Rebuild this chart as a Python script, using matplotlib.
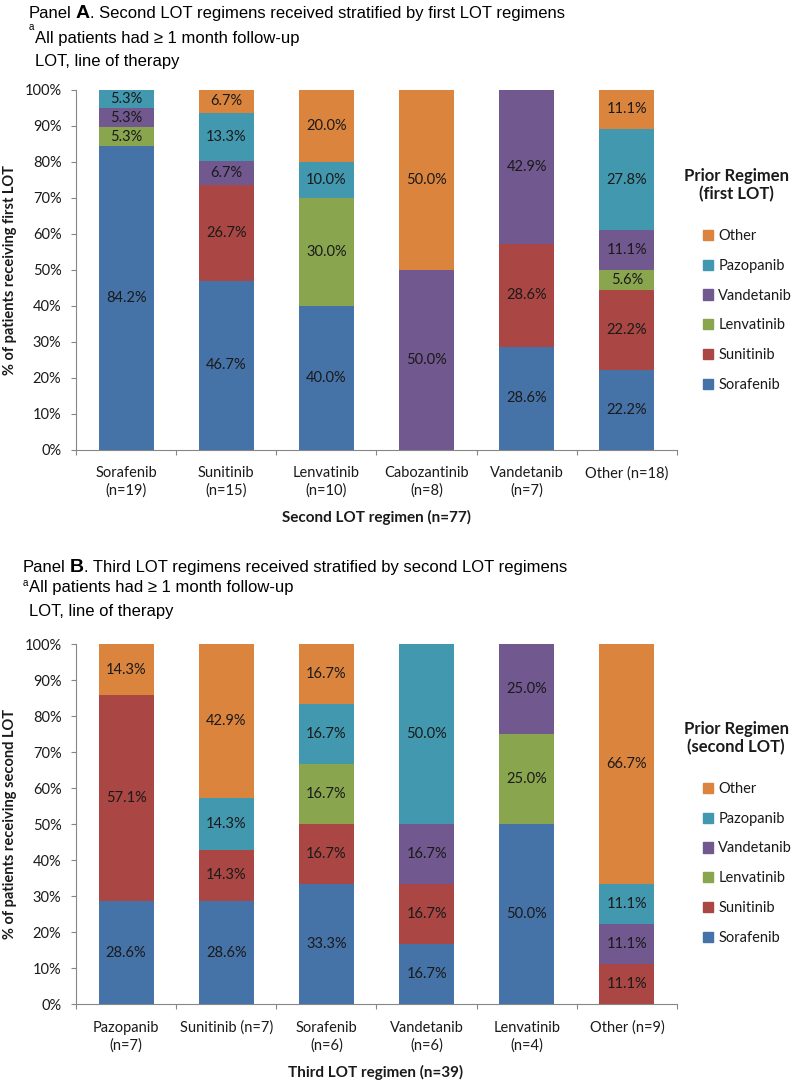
import matplotlib
matplotlib.use("Agg")
import matplotlib.pyplot as plt
import numpy as np
from matplotlib.patches import Patch
from matplotlib.ticker import MultipleLocator, PercentFormatter

W, H = 797, 1081  # output size in pixels

PRIOR = ["Sorafenib", "Sunitinib", "Lenvatinib", "Vandetanib", "Pazopanib", "Other"]
COLORS = ["#4572A7", "#AA4643", "#89A54E", "#71588F", "#4198AF", "#DB843D"]

# Panel A: second LOT regimen, split by first LOT regimen (%)
A_CATS = ["Sorafenib\n(n=19)", "Sunitinib\n(n=15)", "Lenvatinib\n(n=10)",
          "Cabozantinib\n(n=8)", "Vandetanib\n(n=7)", "Other (n=18)"]
A_SORAFENIB = [84.2, 46.7, 40.0, 0, 28.6, 22.2]
A_SUNITINIB = [0, 26.7, 0, 0, 28.6, 22.2]
A_LENVATINIB = [5.3, 0, 30.0, 0, 0, 5.6]
A_VANDETANIB = [5.3, 6.7, 0, 50.0, 42.9, 11.1]
A_PAZOPANIB = [5.3, 13.3, 10.0, 0, 0, 27.8]
A_OTHER = [0, 6.7, 20.0, 50.0, 0, 11.1]

# Panel B: third LOT regimen, split by second LOT regimen (%)
B_CATS = ["Pazopanib\n(n=7)", "Sunitinib (n=7)", "Sorafenib\n(n=6)",
          "Vandetanib\n(n=6)", "Lenvatinib\n(n=4)", "Other (n=9)"]
B_SORAFENIB = [28.6, 28.6, 33.3, 16.7, 50.0, 0]
B_SUNITINIB = [57.1, 14.3, 16.7, 16.7, 0, 11.1]
B_LENVATINIB = [0, 0, 16.7, 0, 25.0, 0]
B_VANDETANIB = [0, 0, 0, 16.7, 25.0, 11.1]
B_PAZOPANIB = [0, 14.3, 16.7, 50.0, 0, 11.1]
B_OTHER = [14.3, 42.9, 16.7, 0, 0, 66.7]

HEAD_FONT = "Liberation Sans"
CHART_FONT = "Lato"
GREY = "#868686"
TXT = "#1a1a1a"


def fx(x):
    return x / W


def fy(y):
    return 1 - y / H


def header(fig, r, x, y, letter, rest, ya, y2, y3, xsub):
    # "Panel X. ..." line with a bigger bold letter
    t1 = fig.text(fx(x), fy(y), "Panel", fontsize=12, family=HEAD_FONT, va="baseline")
    x1 = t1.get_window_extent(r).x1 + 4
    t2 = fig.text(x1 / W, fy(y), letter, fontsize=14, family=HEAD_FONT,
                  weight="bold", va="baseline")
    x2 = t2.get_window_extent(r).x1 + 0.5
    fig.text(x2 / W, fy(y), rest, fontsize=12, family=HEAD_FONT, va="baseline")
    # footnotes
    fig.text(fx(x), fy(ya), "a", fontsize=7, family=HEAD_FONT, va="baseline")
    fig.text(fx(xsub), fy(y2), "All patients had \u2265 1 month follow-up",
             fontsize=12, family=HEAD_FONT, va="baseline")
    fig.text(fx(xsub), fy(y3), "LOT, line of therapy",
             fontsize=12, family=HEAD_FONT, va="baseline")


def panel(fig, top, cats, series, ylabel, xlabel, legend_title, title_y, legend_y):
    ax = fig.add_axes([fx(76), fy(top + 360), fx(601), 360 / H])
    x = np.arange(len(cats))
    bottom = np.zeros(len(cats))
    for name, vals, col in zip(PRIOR, series, COLORS):
        vals = np.array(vals, dtype=float)
        bars = ax.bar(x, vals, 0.55, bottom=bottom, color=col, label=name)
        labels = [f"{v:.1f}%" if v > 0 else "" for v in vals]
        ax.bar_label(bars, labels=labels, label_type="center", fontsize=10.5,
                     family=CHART_FONT, color=TXT)
        bottom += vals

    ax.set_xlim(-0.5, len(cats) - 0.5)
    ax.set_ylim(0, 100)
    ax.yaxis.set_major_locator(MultipleLocator(10))
    ax.yaxis.set_major_formatter(PercentFormatter(decimals=0))
    ax.set_xticks(x, labels=cats)
    ax.set_xticks(np.arange(-0.5, len(cats), 1), minor=True)
    ax.tick_params(axis="x", which="major", length=0, pad=12, labelsize=10.5,
                   labelcolor=TXT)
    ax.tick_params(axis="x", which="minor", length=3.5, color=GREY, width=0.8)
    ax.tick_params(axis="y", length=3.5, color=GREY, width=0.8, pad=7,
                   labelsize=10.5, labelcolor=TXT)
    for lab in ax.get_xticklabels() + ax.get_yticklabels():
        lab.set_family(CHART_FONT)
    for lab in ax.get_xticklabels():
        lab.set_linespacing(1.3)
    ax.spines[["top", "right"]].set_visible(False)
    ax.spines[["left", "bottom"]].set_color(GREY)
    ax.spines[["left", "bottom"]].set_linewidth(0.8)

    fig.text(fx(10), fy(top + 180), ylabel, rotation=90, ha="center", va="center",
             fontsize=10.5, weight="bold", family=CHART_FONT, color=TXT)
    fig.text(fx(376), fy(top + 428), xlabel, ha="center", va="center",
             fontsize=11, weight="bold", family=CHART_FONT, color=TXT)

    fig.text(fx(736), fy(title_y), legend_title, ha="center", va="center",
             fontsize=12, weight="bold", family=CHART_FONT, color=TXT,
             linespacing=1.15)
    handles = [Patch(color=c) for c in COLORS][::-1]
    fig.legend(handles, PRIOR[::-1], loc="upper left",
               bbox_to_anchor=(fx(703), fy(legend_y)), frameon=False,
               borderpad=0, borderaxespad=0, handlelength=0.7, handleheight=0.7,
               handletextpad=0.35, labelspacing=1.08,
               prop={"family": CHART_FONT, "size": 10.5}, labelcolor=TXT)
    return ax


fig = plt.figure(figsize=(W / 100, H / 100), dpi=100)
r = fig.canvas.get_renderer()

header(fig, r, 29, 18, "A", ". Second LOT regimens received stratified by first LOT regimens",
       30, 43, 66, 35)
panel(fig, 89.5, A_CATS,
      [A_SORAFENIB, A_SUNITINIB, A_LENVATINIB, A_VANDETANIB, A_PAZOPANIB, A_OTHER],
      "% of patients receiving first LOT", "Second LOT regimen (n=77)",
      "Prior Regimen\n(first LOT)", 185, 229)

header(fig, r, 23, 572, "B", ". Third LOT regimens received stratified by second LOT regimens",
       586, 592, 616, 29)
panel(fig, 644, B_CATS,
      [B_SORAFENIB, B_SUNITINIB, B_LENVATINIB, B_VANDETANIB, B_PAZOPANIB, B_OTHER],
      "% of patients receiving second LOT", "Third LOT regimen (n=39)",
      "Prior Regimen\n(second LOT)", 738, 782)

fig.savefig("out.png", dpi=100)
